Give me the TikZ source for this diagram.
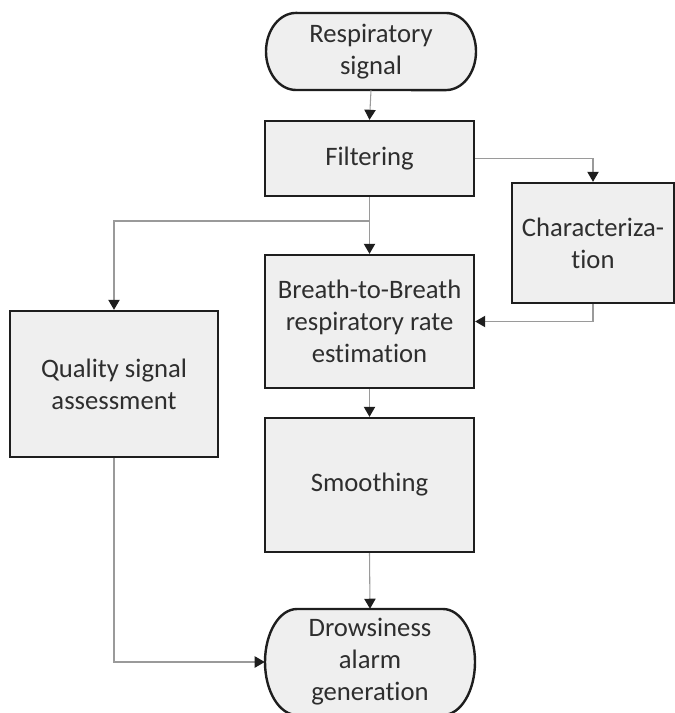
\documentclass[tikz,border=0pt]{standalone}
\usepackage{fontspec}
\setmainfont[Ligatures=NoCommon]{Carlito}
\usetikzlibrary{arrows.meta}
\definecolor{boxfill}{HTML}{EFEFEF}
\definecolor{boxline}{HTML}{1E1E1E}
\definecolor{conn}{HTML}{9A9A9A}
\definecolor{txt}{HTML}{2E2E2E}
\tikzset{
  procbox/.style={draw=boxline, line width=1.8pt, fill=boxfill, align=center,
    text=txt, font=\fontsize{20}{24}\selectfont, inner sep=0pt},
  termnode/.style={align=center, text=txt, font=\fontsize{20}{24}\selectfont, inner sep=0pt},
  termline/.style={draw=boxline, line width=1.8pt, fill=boxfill},
  conline/.style={draw=conn, line width=0.8pt},
  arr/.style={conline, -{Triangle[width=8.5pt,length=7.5pt,color=boxline]}}
}
\begin{document}
\begin{tikzpicture}[x=0.75pt,y=-0.75pt]
\useasboundingbox (0,0) rectangle (674,713);
% terminators (shape drawn first, text node on top)
\path[termline] (296,13) -- (446,13) arc[start angle=90,end angle=-90,x radius=22.5pt,y radius=28.9pt] -- (296,90) arc[start angle=270,end angle=90,x radius=22.5pt,y radius=28.9pt] -- cycle;
\node[termnode, minimum width=157.5pt, minimum height=57.75pt] (rs) at (371,51.5) {Respiratory\\signal};
\path[termline] (297,609) -- (443,609) arc[start angle=90,end angle=-90,x radius=24pt,y radius=39.75pt] -- (297,715) arc[start angle=270,end angle=90,x radius=24pt,y radius=39.75pt] -- cycle;
\node[termnode, minimum width=157.5pt, minimum height=79.5pt] (dr) at (370,662) {Drowsiness\\alarm\\generation};
% process boxes
\node[procbox, minimum width=156.75pt, minimum height=56.25pt] (filt) at (369.5,158.5) {Filtering};
\node[procbox, minimum width=121.5pt, minimum height=90pt] (char) at (593,243) {Characteriza-\\tion};
\node[procbox, minimum width=156.75pt, minimum height=99.75pt] (b2b) at (369.5,321.5) {Breath-to-Breath\\respiratory rate\\estimation};
\node[procbox, minimum width=156pt, minimum height=109.5pt] (qual) at (114,384) {Quality signal\\assessment};
\node[procbox, minimum width=156.75pt, minimum height=100.5pt] (smooth) at (369.5,485) {Smoothing};
\coordinate (branch) at (369.5,221);
% connectors
\draw[arr] (rs.south) -- (filt.north);
\draw[arr] (filt.east) -| (char.north);
\draw[arr] (char.south) |- (b2b.east);
\draw[arr] (filt.south) -- (b2b.north);
\draw[arr] (branch) -| (qual.north);
\draw[arr] (b2b.south) -- (smooth.north);
\draw[arr] (smooth.south) -- (dr.north);
\draw[arr] (qual.south) |- (dr.west);
\end{tikzpicture}
\end{document}
